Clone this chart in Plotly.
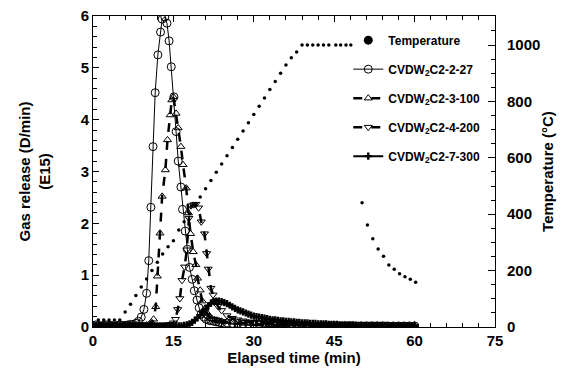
import plotly.graph_objects as go

# ---------------- data ----------------
# Temperature (right axis, °C)
temp_t = [1, 2, 3, 4, 5, 6, 7, 8, 9, 10, 11, 12, 13, 14, 15, 16, 17, 18, 19, 20,
          21, 22, 23, 24, 25, 26, 27, 28, 29, 30, 31, 32, 33, 34, 35, 36, 37, 38,
          39, 40, 41, 42, 43, 44, 45.3, 46.2, 47.2, 48.1,
          50.2, 51.2, 52.2, 53.2, 54.2, 55.2, 56.2, 57.2, 58.2, 59.2, 60.2]
temp_v = [25, 25, 25, 25, 25, 53, 81, 112, 142, 170, 200, 230, 259, 285, 306, 344, 373, 402, 432, 461,
          490, 520, 549, 578, 607, 637, 666, 695, 724, 754, 783, 812, 842, 871, 900, 929, 955, 975,
          1000, 1000, 1000, 1000, 1000, 1000, 1000, 1000, 1000, 1000,
          441, 362, 313, 277, 251, 220, 205, 189, 178, 169, 159]

# shared tail time grid (min)
t_tail = [24, 25, 26, 27, 28, 29, 30, 31, 32, 33, 34, 35, 36, 37, 38, 39, 40, 41, 42,
          43, 44, 45, 46, 47, 48, 49, 50, 51, 52, 53, 54, 55, 56, 57, 58, 59, 60]

# CVDW2C2-2-27
a_t = [0, 0.5, 1, 1.5, 2, 2.5, 3, 3.5, 4, 4.5, 5, 5.5, 6, 6.5, 7, 7.5, 8, 8.5,
       9.0, 9.5, 10.0, 10.4, 10.8, 11.2, 11.6, 12.1, 12.6, 12.9, 13.4, 13.8, 14.2, 14.6,
       15.1, 15.5, 15.9, 16.4, 16.7, 17.2, 17.6, 18.0, 18.5, 18.9, 19.4, 19.8, 20.2,
       20.7, 21.1, 21.6, 22.0, 22.5, 23.0, 23.5] + t_tail
a_v = [0.03, 0.04, 0.03, 0.02, 0.03, 0.04, 0.03, 0.03, 0.02, 0.03, 0.04, 0.03, 0.03, 0.04, 0.05, 0.05, 0.07, 0.11,
       0.19, 0.34, 0.65, 1.28, 2.31, 3.48, 4.52, 5.25, 5.69, 5.94, 5.98, 5.86, 5.52, 5.02,
       4.44, 3.77, 3.20, 2.70, 2.27, 1.85, 1.50, 1.15, 0.92, 0.70, 0.52, 0.37, 0.25,
       0.19, 0.15, 0.13, 0.12, 0.11, 0.10, 0.09] + \
      [0.08, 0.08, 0.07, 0.07, 0.06, 0.06, 0.05, 0.05, 0.05, 0.04, 0.04, 0.04, 0.03, 0.03, 0.03, 0.03, 0.03,
       0.02, 0.02, 0.02, 0.02, 0.02, 0.02, 0.02, 0.02, 0.02, 0.02, 0.02, 0.02, 0.02, 0.02, 0.02, 0.02,
       0.02, 0.02, 0.02, 0.02]

# CVDW2C2-3-100
b_t = [0, 0.5, 1, 1.5, 2, 2.5, 3, 3.5, 4, 4.5, 5, 5.5, 6, 6.5, 7, 7.5, 8, 8.5, 9, 9.5, 10, 10.5, 11,
       11.3, 11.7, 12.0, 12.5, 12.9, 13.5, 13.9, 14.4, 14.7, 15.0, 15.5, 15.9, 16.4, 16.8, 17.4,
       17.8, 18.2, 18.7, 19.2, 19.5, 20.0, 20.4, 20.9, 21.3, 21.8, 22.2, 22.7, 23.1, 23.5] + t_tail
b_v = [0.02, 0.03, 0.02, 0.03, 0.02, 0.03, 0.02, 0.03, 0.03, 0.02, 0.03, 0.02, 0.03, 0.03, 0.02, 0.03, 0.03, 0.02, 0.03, 0.03, 0.04, 0.05, 0.08,
       0.15, 0.39, 0.98, 1.81, 2.52, 3.03, 3.61, 4.09, 4.38, 4.44, 4.12, 3.84, 3.48, 3.13, 2.68,
       2.20, 1.80, 1.45, 1.20, 0.94, 0.71, 0.50, 0.36, 0.27, 0.20, 0.16, 0.14, 0.13, 0.12] + \
      [0.11, 0.10, 0.09, 0.08, 0.07, 0.07, 0.06, 0.06, 0.05, 0.05, 0.04, 0.04, 0.04, 0.03, 0.03, 0.03, 0.03,
       0.03, 0.02, 0.02, 0.02, 0.02, 0.02, 0.02, 0.02, 0.02, 0.02, 0.02, 0.02, 0.02, 0.02, 0.02, 0.02,
       0.02, 0.02, 0.02, 0.02]

# CVDW2C2-4-200
c_t = [0, 0.5, 1, 1.5, 2, 2.5, 3, 3.5, 4, 4.5, 5, 5.5, 6, 6.5, 7, 7.5, 8, 8.5, 9, 9.5, 10, 10.5, 11, 11.5,
       12, 12.5, 13, 13.5, 14, 14.5, 15.0, 15.4, 15.8, 16.2, 16.6, 17.1, 17.5, 17.9, 18.3, 18.8, 19.2,
       19.7, 20.2, 20.8, 21.2, 21.5, 22.0, 22.4, 22.9, 23.3] + t_tail
c_v = [0.02, 0.03, 0.02, 0.03, 0.02, 0.02, 0.03, 0.02, 0.03, 0.02, 0.03, 0.02, 0.03, 0.02, 0.03, 0.02, 0.03, 0.02, 0.03, 0.02, 0.03, 0.02, 0.03, 0.02,
       0.03, 0.02, 0.03, 0.03, 0.04, 0.05, 0.08, 0.15, 0.34, 0.55, 0.90, 1.16, 1.49, 2.10, 2.34, 2.36, 2.37,
       2.30, 2.03, 1.80, 1.42, 1.12, 0.75, 0.62, 0.50, 0.40] + \
      [0.32, 0.22, 0.17, 0.14, 0.12, 0.10, 0.09, 0.08, 0.07, 0.06, 0.05, 0.05, 0.04, 0.04, 0.04, 0.03, 0.03,
       0.03, 0.03, 0.02, 0.02, 0.02, 0.02, 0.02, 0.02, 0.02, 0.02, 0.02, 0.02, 0.02, 0.02, 0.02, 0.02,
       0.02, 0.02, 0.02, 0.02]

# CVDW2C2-7-300
d_t = [0, 0.5, 1, 1.5, 2, 2.5, 3, 3.5, 4, 4.5, 5, 5.5, 6, 6.5, 7, 7.5, 8, 8.5, 9, 9.5, 10, 10.5, 11, 11.5,
       12, 12.5, 13, 13.5, 14, 14.5, 15, 15.5, 16, 16.5, 17, 17.5, 18, 18.5, 19, 19.5, 20, 20.5,
       21, 21.5, 22, 22.5, 23, 23.5, 24, 24.5, 25, 25.5, 26, 26.5, 27, 27.5, 28, 28.5, 29, 29.5,
       30, 30.5, 31, 31.5, 32, 32.5, 33, 33.5, 34, 34.5, 35, 35.5, 36, 36.5, 37, 37.5, 38, 38.5,
       39, 39.5, 40, 40.5, 41, 41.5, 42, 42.5, 43, 43.5, 44, 44.5, 45, 45.5, 46, 46.5, 47, 47.5,
       48, 48.5, 49, 49.5, 50, 50.5, 51, 51.5, 52, 52.5, 53, 53.5, 54, 54.5, 55, 55.5, 56, 56.5,
       57, 57.5, 58, 58.5, 59, 59.5, 60]
d_v = [0.02, 0.02, 0.02, 0.02, 0.02, 0.02, 0.02, 0.02, 0.02, 0.02, 0.02, 0.02, 0.02, 0.02, 0.02, 0.02, 0.02, 0.02, 0.02, 0.02, 0.02, 0.02, 0.02, 0.02,
       0.02, 0.02, 0.02, 0.02, 0.02, 0.02, 0.02, 0.02, 0.02, 0.02, 0.03, 0.04, 0.06, 0.09, 0.13, 0.18, 0.23, 0.29,
       0.35, 0.41, 0.46, 0.49, 0.50, 0.50, 0.49, 0.47, 0.45, 0.42, 0.39, 0.36, 0.33, 0.31, 0.29, 0.27, 0.25, 0.23,
       0.21, 0.20, 0.19, 0.18, 0.17, 0.16, 0.15, 0.14, 0.14, 0.13, 0.12, 0.12, 0.11, 0.11, 0.10, 0.10, 0.09, 0.09,
       0.08, 0.08, 0.08, 0.07, 0.07, 0.07, 0.06, 0.06, 0.06, 0.06, 0.05, 0.05, 0.05, 0.05, 0.04, 0.04, 0.04, 0.04,
       0.04, 0.04, 0.03, 0.03, 0.03, 0.03, 0.03, 0.03, 0.03, 0.03, 0.03, 0.03, 0.03, 0.03, 0.02, 0.02, 0.02, 0.02,
       0.02, 0.02, 0.02, 0.02, 0.02, 0.02, 0.02]

names = ["CVDW<sub>2</sub>C2-2-27", "CVDW<sub>2</sub>C2-3-100",
         "CVDW<sub>2</sub>C2-4-200", "CVDW<sub>2</sub>C2-7-300"]

# ---------------- figure ----------------
FONT = "Arial, Liberation Sans, Helvetica, sans-serif"
fig = go.Figure()

# legend-only proxy for temperature (bigger dot in legend)
fig.add_trace(go.Scatter(x=[None], y=[None], mode="markers", name="Temperature",
                         marker=dict(color="black", size=9), legendgroup="g0", yaxis="y2"))

fig.add_trace(go.Scatter(x=a_t, y=a_v, mode="lines+markers", name=names[0], legendgroup="g1",
                         line=dict(color="black", width=1),
                         marker=dict(symbol="circle-open", size=8, color="black", line=dict(width=1))))
fig.add_trace(go.Scatter(x=b_t, y=b_v, mode="lines+markers", name=names[1], legendgroup="g2",
                         line=dict(color="black", width=2.5, dash="dash"),
                         marker=dict(symbol="triangle-up-open", size=7, color="black", line=dict(width=1))))
fig.add_trace(go.Scatter(x=c_t, y=c_v, mode="lines+markers", name=names[2], legendgroup="g3",
                         line=dict(color="black", width=2.5, dash="dash"),
                         marker=dict(symbol="triangle-down-open", size=7, color="black", line=dict(width=1))))
fig.add_trace(go.Scatter(x=d_t, y=d_v, mode="lines+markers", name=names[3], legendgroup="g4",
                         line=dict(color="black", width=2),
                         marker=dict(symbol="cross", size=6, color="black")))

fig.add_trace(go.Scatter(x=temp_t, y=temp_v, mode="markers", name="Temperature", showlegend=False,
                         marker=dict(color="black", size=3.5), yaxis="y2"))

axis_common = dict(showline=True, linecolor="black", linewidth=1, ticks="inside",
                   tickcolor="black", showgrid=False, zeroline=False, automargin=False,
                   ticklabeloverflow="allow",
                   tickfont=dict(family=FONT, size=15, color="black", weight="bold"))

# page body has an 8px default margin, so the figure is sized/offset to compensate
fig.update_layout(
    width=575, height=374,
    margin=dict(l=85, r=88, t=8, b=55, autoexpand=False),
    paper_bgcolor="white", plot_bgcolor="white",
    font=dict(family=FONT, color="black"),
    showlegend=True,
    legend=dict(x=0.635, y=0.969, xanchor="left", yanchor="top",
                bgcolor="rgba(0,0,0,0)", tracegroupgap=10,
                font=dict(family=FONT, size=12, color="black", weight="bold")),
    xaxis=dict(range=[0, 75], dtick=15, tick0=0, mirror="ticks", ticklen=6,
               minor=dict(dtick=3, ticks="inside", ticklen=4, tickcolor="black"),
               title=dict(text="Elapsed time (min)", standoff=0,
                          font=dict(family=FONT, size=15, color="black", weight="bold")),
               **axis_common),
    yaxis=dict(range=[0, 6], dtick=1, ticklen=6,
               minor=dict(dtick=0.2, ticks="inside", ticklen=4, tickcolor="black"),
               title=dict(text="Gas release (D/min)<br>(E15)", standoff=26,
                          font=dict(family=FONT, size=15, color="black", weight="bold")),
               **axis_common),
    yaxis2=dict(range=[0, 1103], dtick=200, ticklen=7, overlaying="y", side="right",
                ticklabelstandoff=8,
                minor=dict(dtick=50, ticks="inside", ticklen=4, tickcolor="black"),
                title=dict(text="Temperature (°C)", standoff=3,
                           font=dict(family=FONT, size=15, color="black", weight="bold")),
                **axis_common),
)

fig.write_html("out.html")
